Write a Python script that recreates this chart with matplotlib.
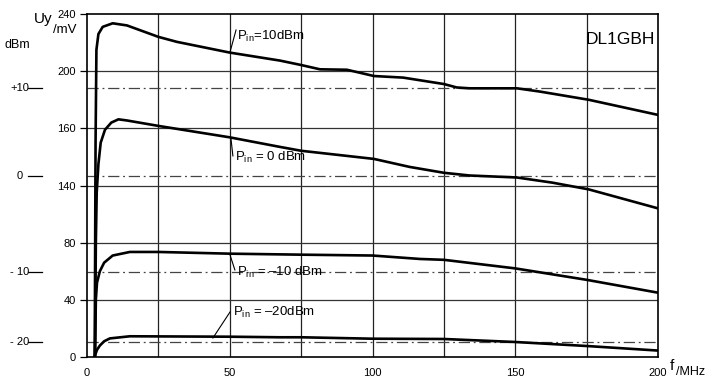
import matplotlib
matplotlib.use('Agg')
import matplotlib.pyplot as plt
import matplotlib.transforms as mtransforms

plt.rcParams['font.family'] = ['Liberation Sans Narrow', 'Liberation Sans', 'DejaVu Sans']
plt.rcParams['mathtext.fontset'] = 'custom'
plt.rcParams['mathtext.rm'] = 'Liberation Sans'

# detector output Uy (mV) vs frequency (MHz) for four input levels
f_p10 = [2.7, 3.0, 3.3, 4.0, 5.5, 9, 14, 25, 31.5, 50, 67.6, 75, 81.6, 91, 94.5,
         100.5, 110.7, 125, 129.5, 134, 150.6, 158.7, 175.7, 200]
u_p10 = [0, 150, 215, 226, 231, 233.5, 232, 224, 220.5, 213, 207.4, 204.3, 201.3,
         201, 199.4, 196.6, 195.5, 191, 188.6, 188, 188, 185.7, 180, 169.4]

f_0 = [2.8, 3.1, 3.4, 4.0, 4.8, 6.3, 8.5, 11, 14, 25, 50, 67.6, 75, 100.5, 113,
       125, 134, 150.6, 163, 175.7, 200]
u_0 = [0, 80, 115, 135, 150, 159, 164, 166.3, 165.5, 161.7, 153.7, 147, 144.3,
       138.6, 133, 128.9, 127, 125.6, 122, 117.3, 104]

f_m10 = [2.8, 3.1, 3.5, 4.5, 6, 9, 15, 25, 50, 75, 100, 116.6, 125, 150, 175, 200]
u_m10 = [0, 40, 52, 60, 66, 71, 73.5, 73.5, 72.3, 71.6, 71, 68.6, 68, 62, 54, 45]

f_m20 = [2.6, 3.5, 4.5, 6, 8, 15, 50, 67.6, 75, 100, 125, 150, 175, 200]
u_m20 = [0, 5, 8, 11, 13, 14.5, 14.2, 13.8, 13.8, 12.8, 12.6, 10.5, 7.7, 4.5]

curve_f = [f_p10, f_0, f_m10, f_m20]
curve_u = [u_p10, u_0, u_m10, u_m20]
curve_labels = ['P$_{\\rm in}$=10dBm', 'P$_{\\rm in}$ = 0 dBm',
                'P$_{\\rm in}$ = \u201310 dBm', 'P$_{\\rm in}$ = \u201320dBm']

# reference levels (dBm) and their Uy (mV)
dbm_labels = ['+10', '0', '- 10', '- 20']
dbm_mv = [188, 126.5, 59.5, 10.5]

yticks = [0, 40, 80, 120, 160, 200, 240]
ytick_labels = ['0', '40', '80', '140', '160', '200', '240']
xticks = [0, 50, 100, 150, 200]

my_dpi = 100
fig = plt.figure(figsize=(717 / my_dpi, 384 / my_dpi), dpi=my_dpi)
ax = fig.add_axes([87 / 717, 1 - 357 / 384, 571 / 717, 343 / 384])

ax.set_xlim(0, 200)
ax.set_ylim(0, 240)

# grid
for xv in range(25, 200, 25):
    ax.axvline(xv, color='#222222', lw=0.9, zorder=1)
for yv in yticks[1:-1]:
    ax.axhline(yv, color='#333333', lw=0.9, zorder=1)

# dash-dot reference levels
for yv in dbm_mv:
    ax.axhline(yv, color='#444444', lw=0.9, dashes=(9, 3, 1.5, 3), zorder=1)

for fx, uy in zip(curve_f, curve_u):
    ax.plot(fx, uy, color='k', lw=1.9, zorder=3, solid_joinstyle='round')

# curve labels with leader lines
leaders = [((50.1, 213.4), (52.2, 228.8)), ((50.4, 153.3), (51.1, 140.7)),
           ((50.1, 71.4), (51.8, 60.9)), ((44.1, 13.3), (50.1, 31.5))]
text_pos = [(52.5, 224.5), (51.8, 139.5), (52.5, 59.0), (51.1, 31.3)]
for (p0, p1), (tx, ty), lab in zip(leaders, text_pos, curve_labels):
    ax.plot([p0[0], p1[0]], [p0[1], p1[1]], color='k', lw=0.8, zorder=3)
    ax.text(tx, ty, lab, fontsize=9.5, ha='left', va='center', zorder=4)

ax.text(186.7, 222, 'DL1GBH', fontsize=12.5, ha='center', va='center')

ax.set_xticks(xticks)
ax.set_xticklabels([str(v) for v in xticks], fontsize=8)
ax.set_yticks(yticks)
ax.set_yticklabels(ytick_labels, fontsize=8)
ax.tick_params(axis='x', length=0, pad=8)
ax.tick_params(axis='y', length=5, width=0.9, direction='out', pad=3)
for sp in ax.spines.values():
    sp.set_linewidth(1.2)

# dBm scale at the left
trans = mtransforms.blended_transform_factory(ax.transAxes, ax.transData)
for lab, yv in zip(dbm_labels, dbm_mv):
    ax.text(-0.118, yv, lab, transform=trans, fontsize=8, ha='center', va='center')
    ax.plot([-0.103, -0.078], [yv, yv], transform=trans, color='k', lw=0.9,
            clip_on=False)

fig.text(17 / 717, 1 - 45 / 384, 'dBm', fontsize=9, ha='center', va='center')
fig.text(34 / 717, 1 - 19 / 384, 'Uy', fontsize=11, ha='left', va='center')
fig.text(53 / 717, 1 - 30 / 384, '/mV', fontsize=9.5, ha='left', va='center')
fig.text(670 / 717, 1 - 366 / 384, 'f', fontsize=11, ha='left', va='center')
fig.text(676 / 717, 1 - 372 / 384, '/MHz', fontsize=9, ha='left', va='center')

fig.savefig('out.png', dpi=my_dpi)
